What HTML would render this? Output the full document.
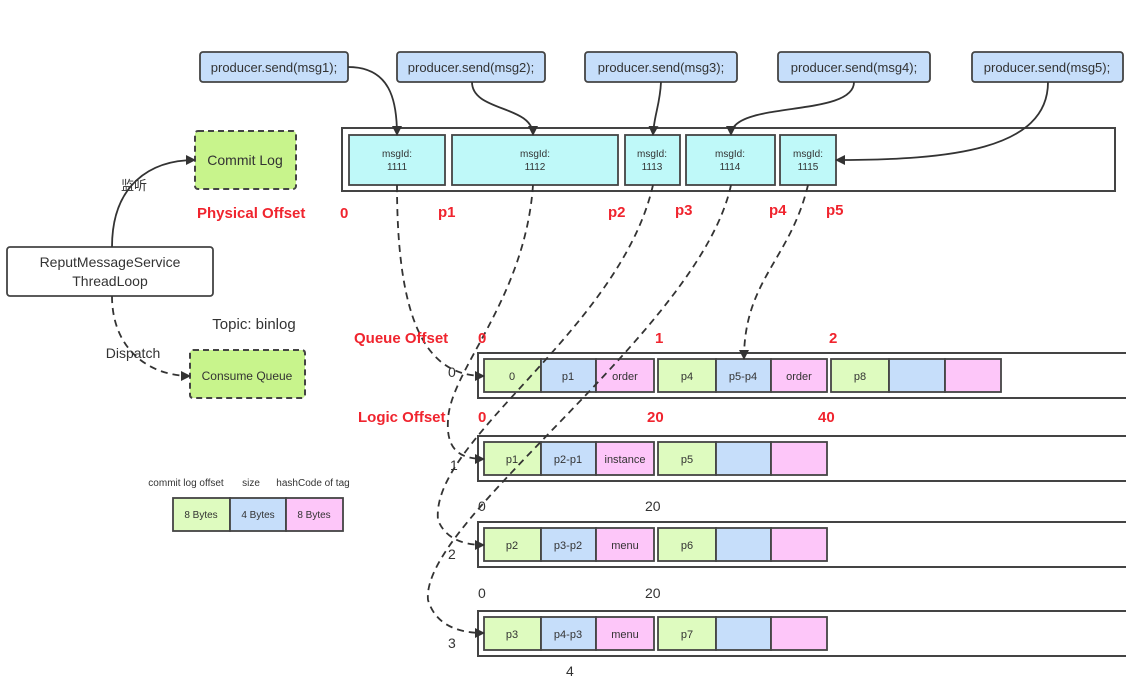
<!DOCTYPE html>
<html><head><meta charset="utf-8"><style>
body{margin:0;background:#fff;}
svg text{font-family:"Liberation Sans","Noto Sans CJK SC",sans-serif;}
</style></head><body>
<svg width="1126" height="678" viewBox="0 0 1126 678" xmlns="http://www.w3.org/2000/svg">
<defs>
<marker id="a" markerWidth="10" markerHeight="10" refX="9" refY="5" orient="auto" markerUnits="userSpaceOnUse"><path d="M0,0 L10,5 L0,10 z" fill="#333"/></marker>
</defs>
<g stroke="#444" stroke-width="1.8">
<g fill="#c6defa">
<rect x="200" y="52" width="148" height="30" rx="3"/>
<rect x="397" y="52" width="148" height="30" rx="3"/>
<rect x="585" y="52" width="152" height="30" rx="3"/>
<rect x="778" y="52" width="152" height="30" rx="3"/>
<rect x="972" y="52" width="151" height="30" rx="3"/>
</g>
<rect x="342" y="128" width="773" height="63" fill="#fff" stroke-width="2"/>
<g fill="#bff9f9">
<rect x="349" y="135" width="96" height="50"/>
<rect x="452" y="135" width="166" height="50"/>
<rect x="625" y="135" width="55" height="50"/>
<rect x="686" y="135" width="89" height="50"/>
<rect x="780" y="135" width="56" height="50"/>
</g>
<rect x="195" y="131" width="101" height="58" rx="3" fill="#c8f48c" stroke-dasharray="6,4" stroke-width="2"/>
<rect x="7" y="247" width="206" height="49" rx="3" fill="#fff"/>
<rect x="190" y="350" width="115" height="48" rx="3" fill="#c8f48c" stroke-dasharray="6,4" stroke-width="2"/>
<g fill="#fff" stroke-width="2">
<rect x="478" y="353" width="660" height="45"/>
<rect x="478" y="436" width="660" height="45"/>
<rect x="478" y="522" width="660" height="45"/>
<rect x="478" y="611" width="660" height="45"/>
</g>
<rect x="173" y="498" width="57" height="33" fill="#defbbf"/>
<rect x="230" y="498" width="56" height="33" fill="#c6defa"/>
<rect x="286" y="498" width="57" height="33" fill="#fdc6f9"/>
</g>
<g stroke="#444" stroke-width="1.8">
<g transform="translate(0,359)">
<rect x="484" width="57" height="33" fill="#defbbf"/><rect x="541" width="55" height="33" fill="#c6defa"/><rect x="596" width="58" height="33" fill="#fdc6f9"/>
<rect x="658" width="58" height="33" fill="#defbbf"/><rect x="716" width="55" height="33" fill="#c6defa"/><rect x="771" width="56" height="33" fill="#fdc6f9"/>
<rect x="831" width="58" height="33" fill="#defbbf"/><rect x="889" width="56" height="33" fill="#c6defa"/><rect x="945" width="56" height="33" fill="#fdc6f9"/>
</g>
<g transform="translate(0,442)">
<rect x="484" width="57" height="33" fill="#defbbf"/><rect x="541" width="55" height="33" fill="#c6defa"/><rect x="596" width="58" height="33" fill="#fdc6f9"/>
<rect x="658" width="58" height="33" fill="#defbbf"/><rect x="716" width="55" height="33" fill="#c6defa"/><rect x="771" width="56" height="33" fill="#fdc6f9"/>
</g>
<g transform="translate(0,528)">
<rect x="484" width="57" height="33" fill="#defbbf"/><rect x="541" width="55" height="33" fill="#c6defa"/><rect x="596" width="58" height="33" fill="#fdc6f9"/>
<rect x="658" width="58" height="33" fill="#defbbf"/><rect x="716" width="55" height="33" fill="#c6defa"/><rect x="771" width="56" height="33" fill="#fdc6f9"/>
</g>
<g transform="translate(0,617)">
<rect x="484" width="57" height="33" fill="#defbbf"/><rect x="541" width="55" height="33" fill="#c6defa"/><rect x="596" width="58" height="33" fill="#fdc6f9"/>
<rect x="658" width="58" height="33" fill="#defbbf"/><rect x="716" width="55" height="33" fill="#c6defa"/><rect x="771" width="56" height="33" fill="#fdc6f9"/>
</g>
</g>
<g fill="none" stroke="#333" stroke-width="1.8" marker-end="url(#a)">
<path d="M348 67 C390 67 397 100 397 135"/>
<path d="M472 82 C472 112 533 105 533 135"/>
<path d="M661 82 C660 105 654 115 653 135"/>
<path d="M854 82 C854 118 731 100 731 135"/>
<path d="M1048 82 C1048 150 950 160 836 160"/>
<path d="M112 247 C112 185 150 160 195 160"/>
</g>
<g fill="none" stroke="#333" stroke-width="1.8" stroke-dasharray="7,5" marker-end="url(#a)">
<path d="M112 296 C112 350 150 376 190 376"/>
<path d="M397 185 C397 330 430 376 484 376"/>
<path d="M533 185 C525 300 450 370 448 420 C446 450 460 459 484 459"/>
<path d="M653 185 C620 330 430 440 438 520 Q448 545 484 545"/>
<path d="M731 185 C700 330 420 520 428 600 Q438 633 484 633"/>
<path d="M808 185 C790 260 744 280 744 359"/>
</g>
<g font-size="13" fill="#333" text-anchor="middle">
<text x="274" y="72">producer.send(msg1);</text>
<text x="471" y="72">producer.send(msg2);</text>
<text x="661" y="72">producer.send(msg3);</text>
<text x="854" y="72">producer.send(msg4);</text>
<text x="1047" y="72">producer.send(msg5);</text>
<text x="245" y="165" font-size="14">Commit Log</text>
<text x="110" y="267" font-size="14">ReputMessageService</text>
<text x="110" y="286" font-size="14">ThreadLoop</text>
<text x="247" y="380" font-size="12">Consume Queue</text>
<text x="134" y="190" font-size="13">监听</text>
<text x="133" y="358" font-size="14">Dispatch</text>
<text x="254" y="329" font-size="15">Topic: binlog</text>
</g>
<g font-size="10" fill="#333" text-anchor="middle">
<text x="397" y="157">msgId:</text><text x="397" y="170">1111</text>
<text x="535" y="157">msgId:</text><text x="535" y="170">1112</text>
<text x="652" y="157">msgId:</text><text x="652" y="170">1113</text>
<text x="730" y="157">msgId:</text><text x="730" y="170">1114</text>
<text x="808" y="157">msgId:</text><text x="808" y="170">1115</text>
<text x="201" y="518">8 Bytes</text><text x="258" y="518">4 Bytes</text><text x="314" y="518">8 Bytes</text>
<text x="186" y="486">commit log offset</text><text x="251" y="486">size</text><text x="313" y="486">hashCode of tag</text>
</g>
<g font-size="11" fill="#333" text-anchor="middle">
<text x="512" y="380">0</text><text x="568" y="380">p1</text><text x="625" y="380">order</text><text x="687" y="380">p4</text><text x="743" y="380">p5-p4</text><text x="799" y="380">order</text><text x="860" y="380">p8</text>
<text x="512" y="463">p1</text><text x="568" y="463">p2-p1</text><text x="625" y="463">instance</text><text x="687" y="463">p5</text>
<text x="512" y="549">p2</text><text x="568" y="549">p3-p2</text><text x="625" y="549">menu</text><text x="687" y="549">p6</text>
<text x="512" y="638">p3</text><text x="568" y="638">p4-p3</text><text x="625" y="638">menu</text><text x="687" y="638">p7</text>
</g>
<g font-size="15" font-weight="bold" fill="#f0242e">
<text x="197" y="218">Physical Offset</text>
<text x="340" y="218">0</text><text x="438" y="217">p1</text><text x="608" y="217">p2</text><text x="675" y="215">p3</text><text x="769" y="215">p4</text><text x="826" y="215">p5</text>
<text x="354" y="343">Queue Offset</text>
<text x="478" y="343">0</text><text x="655" y="343">1</text><text x="829" y="343">2</text>
<text x="358" y="422">Logic Offset</text>
<text x="478" y="422">0</text><text x="647" y="422">20</text><text x="818" y="422">40</text>
</g>
<g font-size="14" fill="#333">
<text x="478" y="511">0</text><text x="645" y="511">20</text>
<text x="478" y="598">0</text><text x="645" y="598">20</text>
<text x="566" y="676">4</text>
<text x="448" y="377">0</text><text x="450" y="470">1</text><text x="448" y="559">2</text><text x="448" y="648">3</text>
</g>
</svg>
</body></html>
